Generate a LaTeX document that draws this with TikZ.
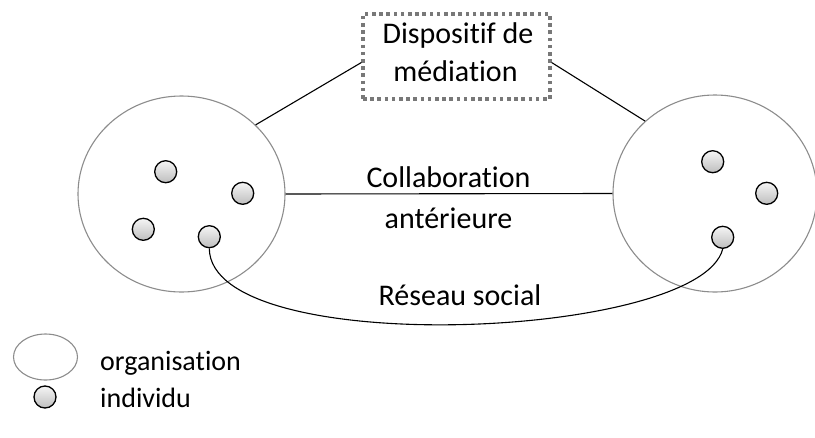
\documentclass[tikz,border=0pt]{standalone}
\usepackage{fontspec}
\setmainfont{Carlito}[Ligatures={NoCommon,NoContextual}]
\usetikzlibrary{shapes.geometric}
\definecolor{orgline}{RGB}{140,140,140}
\definecolor{dotgray}{RGB}{120,120,120}
\definecolor{indtop}{RGB}{245,245,245}
\definecolor{indbot}{RGB}{190,190,190}
\tikzset{
  orgnode/.style={ellipse, draw=orgline, line width=1.1pt, inner sep=0pt},
  indnode/.style={circle, draw=black, line width=1.3pt, minimum size=22pt, inner sep=0pt,
                  top color=indtop, bottom color=indbot},
  dotbox/.style={rectangle, draw=dotgray, line width=3.2pt, dash pattern=on 3.6pt off 3.6pt,
                 minimum width=187pt, minimum height=85pt, inner sep=0pt},
  conn/.style={draw=black, line width=1.1pt},
  bigtxt/.style={font=\fontsize{30}{39}\selectfont, inner sep=0pt},
  legtxt/.style={font=\fontsize{28}{34}\selectfont, inner sep=0pt},
}
\begin{document}
\begin{tikzpicture}[x=1pt, y=-1pt]
\useasboundingbox (0,0) rectangle (815,437);
% organisations
\node[orgnode, minimum width=207pt, minimum height=196pt] (L) at (181.5,194) {};
\node[orgnode, minimum width=204pt, minimum height=197pt] (R) at (715,193.5) {};
% individuals
\node[indnode] (l1) at (165.7,171.7) {};
\node[indnode] (l2) at (242.7,193.3) {};
\node[indnode] (l3) at (143.3,229.3) {};
\node[indnode] (l4) at (209.3,236.7) {};
\node[indnode] (r1) at (712.7,161.7) {};
\node[indnode] (r2) at (766.7,193.3) {};
\node[indnode] (r3) at (722.7,237.3) {};
% mediation box
\node[dotbox] (box) at (456.5,56.5) {};
\node[bigtxt, anchor=base] (boxa) at (458,43.3) {Dispositif de};
\node[bigtxt, anchor=base] (boxb) at (455.5,81.7) {médiation};
% connectors
\draw[conn] (L.43.6) -- ([yshift=-6pt]box.west);
\draw[conn] ([yshift=-6pt]box.east) -- (R.134.8);
\draw[conn] (L.east) -- (R.west);
\draw[conn] (l4.south) .. controls (210,360) and (700,340) .. (r3.south);
% labels
\node[bigtxt, anchor=base] (collab) at (448.5,187) {Collaboration};
\node[bigtxt, anchor=base] (anter) at (448.5,228.5) {antérieure};
\node[bigtxt, anchor=base] (reseau) at (460,305) {Réseau social};
% legend
\node[orgnode, minimum width=64pt, minimum height=46pt] (legorg) at (45.5,357) {};
\node[indnode] (legind) at (45,397) {};
\node[legtxt, anchor=base west] (legorgtxt) at (100,370) {organisation};
\node[legtxt, anchor=base west] (legindtxt) at (100,407) {individu};
\end{tikzpicture}
\end{document}
